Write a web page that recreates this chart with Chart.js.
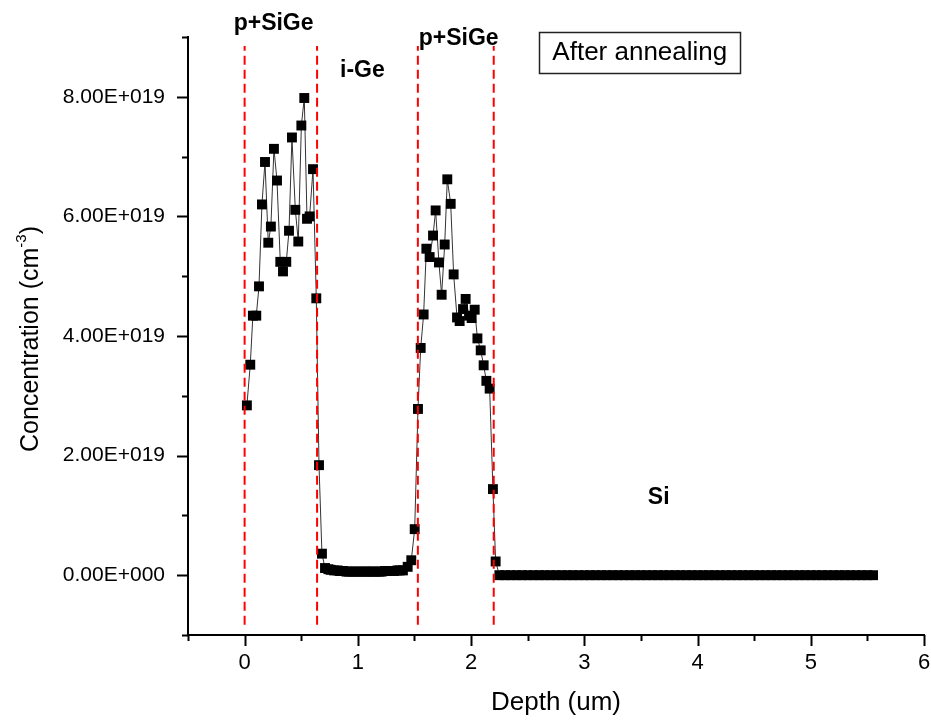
<!DOCTYPE html>
<html>
<head>
<meta charset="utf-8">
<script src="https://cdn.jsdelivr.net/npm/chart.js@4/dist/chart.umd.min.js"></script>
<style>
  html, body { margin: 0; padding: 0; background: #ffffff; }
  #wrap { width: 931px; height: 721px; position: relative; }
</style>
</head>
<body>
<div id="wrap"><canvas id="c" width="931" height="721"></canvas></div>
<script>
// SIMS boron profile after annealing: depth in um, concentration in units of 1e19 cm^-3
const depthUm = [
  // first p+SiGe layer
  0.020, 0.050, 0.073, 0.103, 0.127, 0.153, 0.180, 0.209, 0.232, 0.259,
  0.286, 0.315, 0.339, 0.368, 0.392, 0.418, 0.448, 0.474, 0.501, 0.527,
  0.551, 0.574, 0.604, 0.633, 0.657, 0.683,
  // i-Ge layer
  0.710, 0.740, 0.760, 0.790, 0.820, 0.840, 0.870, 0.900, 0.920, 0.950,
  0.980, 1.000, 1.030, 1.060, 1.080, 1.110, 1.130, 1.160, 1.190, 1.210,
  1.240, 1.270, 1.290, 1.320, 1.350, 1.370, 1.398, 1.440,
  // second p+SiGe layer
  1.472, 1.502, 1.531, 1.555, 1.581, 1.605, 1.634, 1.664, 1.687, 1.716,
  1.740, 1.767, 1.790, 1.820, 1.846, 1.876, 1.899, 1.929, 1.952, 1.982,
  2.005, 2.032, 2.056, 2.085, 2.111, 2.135, 2.164, 2.193, 2.217,
  // Si substrate
  2.25, 2.30, 2.35, 2.40, 2.45, 2.50, 2.55, 2.60, 2.65, 2.70,
  2.75, 2.80, 2.85, 2.90, 2.95, 3.00, 3.05, 3.10, 3.15, 3.20,
  3.25, 3.30, 3.35, 3.40, 3.45, 3.50, 3.55, 3.60, 3.65, 3.70,
  3.75, 3.80, 3.85, 3.90, 3.95, 4.00, 4.05, 4.10, 4.15, 4.20,
  4.25, 4.30, 4.35, 4.40, 4.45, 4.50, 4.55, 4.60, 4.65, 4.70,
  4.75, 4.80, 4.85, 4.90, 4.95, 5.00, 5.05, 5.10, 5.15, 5.20,
  5.25, 5.30, 5.35, 5.40, 5.45, 5.50, 5.55
];
const concE19 = [
  2.84, 3.52, 4.34, 4.34, 4.83, 6.20, 6.91, 5.56, 5.83, 7.13,
  6.60, 5.24, 5.08, 5.24, 5.76, 7.32, 6.11, 5.58, 7.52, 7.98,
  5.96, 6.00, 6.79, 4.63, 1.84, 0.36,
  0.12, 0.10, 0.09, 0.08, 0.08, 0.07, 0.07, 0.06, 0.06, 0.06,
  0.06, 0.06, 0.06, 0.06, 0.06, 0.06, 0.06, 0.06, 0.06, 0.06,
  0.07, 0.07, 0.07, 0.07, 0.08, 0.08, 0.08, 0.14,
  0.25, 0.77, 2.78, 3.80, 4.36, 5.46, 5.32, 5.68, 6.10, 5.23,
  4.69, 5.53, 6.62, 6.21, 5.03, 4.31, 4.25, 4.45, 4.62, 4.34,
  4.30, 4.44, 3.96, 3.76, 3.51, 3.25, 3.12, 1.44, 0.23,
  0, 0, 0, 0, 0, 0, 0, 0, 0, 0,
  0, 0, 0, 0, 0, 0, 0, 0, 0, 0,
  0, 0, 0, 0, 0, 0, 0, 0, 0, 0,
  0, 0, 0, 0, 0, 0, 0, 0, 0, 0,
  0, 0, 0, 0, 0, 0, 0, 0, 0, 0,
  0, 0, 0, 0, 0, 0, 0, 0, 0, 0,
  0, 0, 0, 0, 0, 0, 0
];

// Layer interfaces (um) and the vertical extent of their dashed markers
const boundaryDepths = [0, 0.64, 1.53, 2.2];
const boundaryRange = [-0.83, 8.85];

// Axis ticks
const xTickValues = [0, 1, 2, 3, 4, 5, 6];
const xMinorValues = [-0.5, 0.5, 1.5, 2.5, 3.5, 4.5, 5.5];
const yTickValues = [0, 2, 4, 6, 8];
const yMinorValues = [-1, 1, 3, 5, 7, 9];

// Layer names placed in data coordinates
const layerLabels = ['p+SiGe', 'i-Ge', 'p+SiGe', 'Si'];
const layerLabelDepth = [0.256, 1.04, 1.89, 3.657];
const layerLabelConc = [9.22, 8.43, 8.97, 1.30];

const boxText = 'After annealing';
const boxDepth = 3.49, boxConc = 8.75;

const FONT = "'Liberation Sans', Arial, Helvetica, sans-serif";

function fmtTick(v) {
  if (v === 0) return '0.00E+000';
  return v.toFixed(2) + 'E+019';
}

const points = depthUm.map((d, i) => ({ x: d, y: concE19[i] }));
const boundaryDatasets = boundaryDepths.map(d => ({
  data: [{ x: d, y: boundaryRange[0] }, { x: d, y: boundaryRange[1] }],
  borderColor: '#ff0000',
  borderWidth: 2,
  borderDash: [9, 5],
  pointRadius: 0,
  showLine: true,
  fill: false,
  order: 0
}));

const decorPlugin = {
  id: 'decor',
  afterDraw(chart) {
    const ctx = chart.ctx;
    const xs = chart.scales.x, ys = chart.scales.y;
    const area = chart.chartArea;
    ctx.save();
    ctx.strokeStyle = '#000';
    ctx.lineWidth = 2;
    // x ticks (outward, downward)
    ctx.beginPath();
    xTickValues.forEach(v => {
      const px = Math.round(xs.getPixelForValue(v)) + 0.5;
      ctx.moveTo(px, area.bottom); ctx.lineTo(px, area.bottom + 11);
    });
    xMinorValues.forEach(v => {
      const px = Math.round(xs.getPixelForValue(v)) + 0.5;
      ctx.moveTo(px, area.bottom); ctx.lineTo(px, area.bottom + 6);
    });
    // y ticks (outward, to the left)
    yTickValues.forEach(v => {
      const py = Math.round(ys.getPixelForValue(v)) + 0.5;
      ctx.moveTo(area.left, py); ctx.lineTo(area.left - 11, py);
    });
    yMinorValues.forEach(v => {
      const py = Math.round(ys.getPixelForValue(v)) + 0.5;
      ctx.moveTo(area.left, py); ctx.lineTo(area.left - 6, py);
    });
    ctx.stroke();

    // layer names
    ctx.fillStyle = '#000';
    ctx.textAlign = 'center';
    ctx.textBaseline = 'middle';
    ctx.font = 'bold 23px ' + FONT;
    layerLabels.forEach((t, i) => {
      ctx.fillText(t, xs.getPixelForValue(layerLabelDepth[i]), ys.getPixelForValue(layerLabelConc[i]));
    });

    // annotation box
    ctx.font = '26px ' + FONT;
    const bx = xs.getPixelForValue(boxDepth), by = ys.getPixelForValue(boxConc);
    const tw = ctx.measureText(boxText).width;
    ctx.lineWidth = 1.5;
    ctx.strokeStyle = '#222';
    ctx.strokeRect(Math.round(bx - tw / 2 - 13) + 0.5, Math.round(by - 20) + 0.5, Math.round(tw + 26), 41);
    ctx.fillText(boxText, bx, by + 1);

    // axis titles
    ctx.font = '26px ' + FONT;
    ctx.fillText('Depth (um)', (area.left + area.right) / 2, 703);

    const main = 'Concentration (cm', sup = '-3', tail = ')';
    ctx.save();
    ctx.translate(31, (area.top + area.bottom) / 2 + 3);
    ctx.rotate(-Math.PI / 2);
    ctx.font = '25px ' + FONT;
    const w1 = ctx.measureText(main).width;
    const w3 = ctx.measureText(tail).width;
    ctx.font = '15px ' + FONT;
    const w2 = ctx.measureText(sup).width;
    const total = w1 + w2 + w3;
    let x0 = -total / 2;
    ctx.textAlign = 'left';
    ctx.font = '25px ' + FONT;
    ctx.fillText(main, x0, 0);
    ctx.font = '15px ' + FONT;
    ctx.fillText(sup, x0 + w1, -9);
    ctx.font = '25px ' + FONT;
    ctx.fillText(tail, x0 + w1 + w2, 0);
    ctx.restore();

    ctx.restore();
  }
};

new Chart(document.getElementById('c'), {
  type: 'scatter',
  data: {
    datasets: [
      ...boundaryDatasets,
      {
        data: points,
        showLine: true,
        borderColor: '#333333',
        borderWidth: 1,
        pointStyle: 'rect',
        pointRadius: 7,
        pointBackgroundColor: '#000',
        pointBorderWidth: 0,
        order: 1
      }
    ]
  },
  options: {
    responsive: false,
    animation: false,
    events: [],
    layout: { padding: { top: 37, right: 7, left: 0, bottom: 0 } },
    plugins: { legend: { display: false }, tooltip: { enabled: false } },
    scales: {
      x: {
        type: 'linear',
        min: -0.5,
        max: 6,
        afterBuildTicks: s => { s.ticks = xTickValues.map(v => ({ value: v })); },
        afterFit: s => { s.height = 86; s.paddingLeft = 0; s.paddingRight = 0; },
        grid: { display: false },
        border: { display: true, color: '#000', width: 2 },
        ticks: {
          color: '#000',
          padding: 7,
          maxRotation: 0,
          font: { family: FONT, size: 22 },
          callback: v => String(v)
        }
      },
      y: {
        type: 'linear',
        min: -1,
        max: 9,
        afterBuildTicks: s => { s.ticks = yTickValues.map(v => ({ value: v })); },
        afterFit: s => { s.width = 188; s.paddingTop = 0; s.paddingBottom = 0; },
        grid: { display: false },
        border: { display: true, color: '#000', width: 2 },
        ticks: {
          color: '#000',
          padding: 15,
          font: { family: FONT, size: 21 },
          callback: v => fmtTick(v)
        }
      }
    }
  },
  plugins: [decorPlugin]
});
</script>
</body>
</html>
